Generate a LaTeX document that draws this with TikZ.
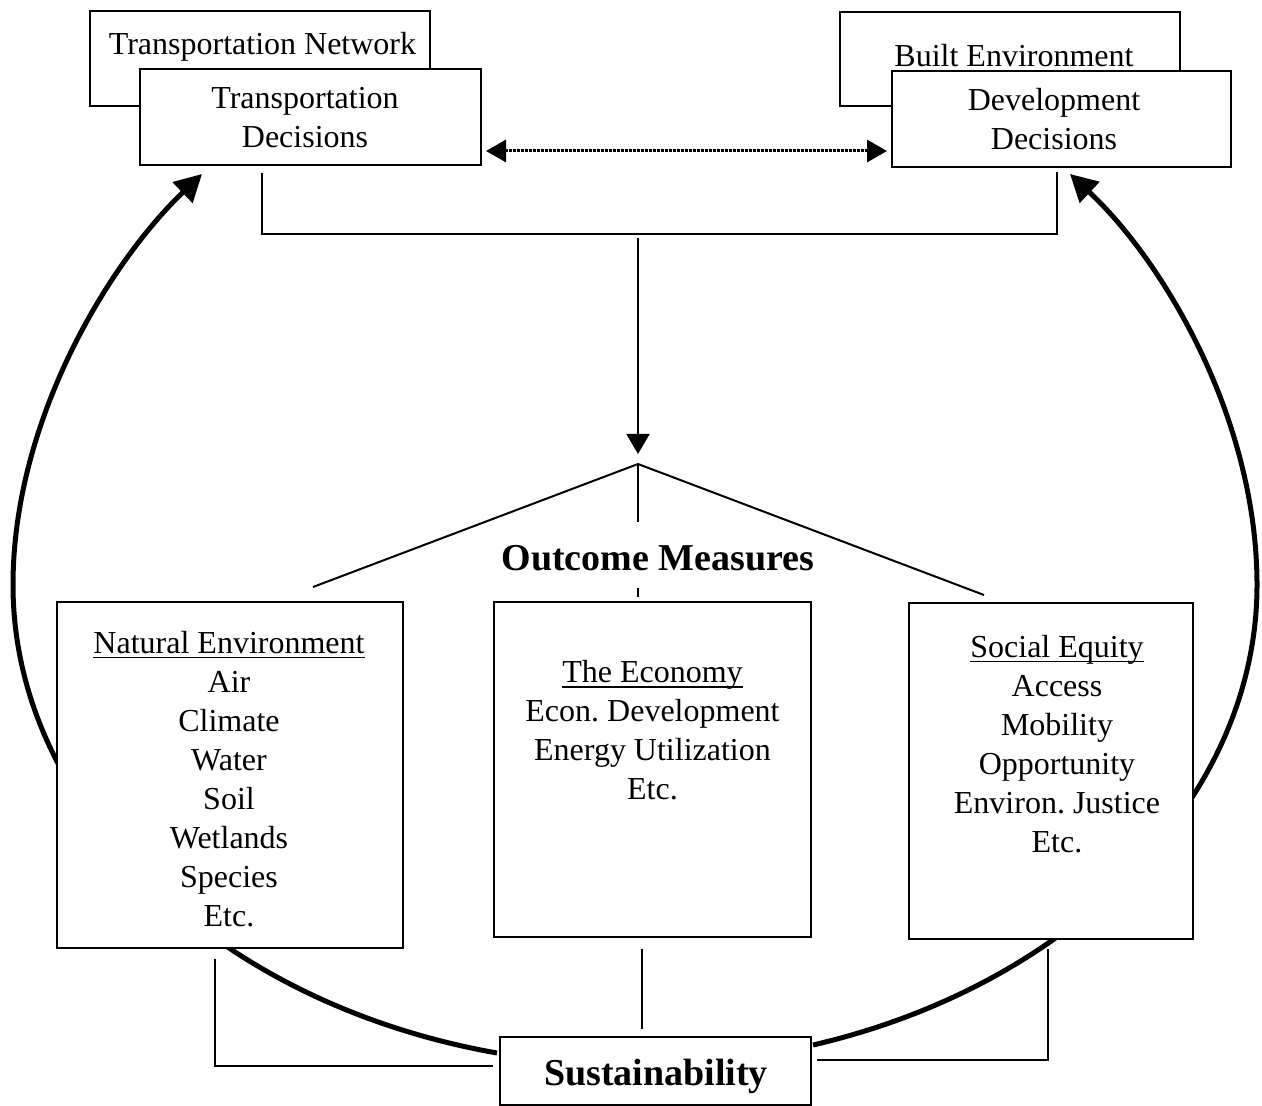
\documentclass[tikz,border=0pt]{standalone}
\usepackage{fontspec}
\setmainfont{Liberation Serif}
\usetikzlibrary{arrows.meta,calc,backgrounds}
\newcommand{\myul}[1]{\setbox0\hbox{#1}\rlap{\rule[-2.4pt]{\wd0}{0.8pt}}\box0}
\frenchspacing
\begin{document}
\begin{tikzpicture}[x=0.5pt,y=-0.5pt,
  box/.style={draw, line width=1pt, fill=white, inner sep=0pt},
  txt/.style={font=\fontsize{16}{19.5}\selectfont, align=center, inner sep=0pt},
  boldtxt/.style={font=\fontsize{19}{23}\selectfont\bfseries, inner sep=0pt},
  thinline/.style={line width=1pt},
  bigarc/.style={line width=2.5pt, -{Triangle[length=13.5pt,width=14pt]}},
  downtip/.style={thinline, -{Triangle[length=10pt,width=11.5pt]}},
  dotarrow/.style={line width=1.5pt, dash pattern=on 1.2pt off 0.8pt,
    {Triangle[length=10pt,width=11pt]}-{Triangle[length=10pt,width=11pt]}},
  ]
\useasboundingbox (0,0) rectangle (1262,1106);

% top boxes
\node[box, minimum width=170pt, minimum height=47.5pt] (tn) at (260,58.5) {};
\node[txt, anchor=base] (tnt) at (262.5,55) {Transportation Network};
\node[box, minimum width=170pt, minimum height=47pt] (be) at (1010,59) {};
\node[txt, anchor=base] (bet) at (1014,67) {Built Environment};
\node[box, minimum width=170.5pt, minimum height=48pt] (td) at (310.5,117) {};
\node[txt] (tdt) at (305,118) {Transportation\\Decisions};
\node[box, minimum width=169.5pt, minimum height=48pt] (dd) at (1061.5,119) {};
\node[txt] (ddt) at (1054,119.5) {Development\\Decisions};

% outcome boxes
\node[box, minimum width=173pt, minimum height=173pt] (ne) at (230,775) {};
\node[txt] (net) at (229,779) {\myul{Natural Environment}\\Air\\Climate\\Water\\Soil\\Wetlands\\Species\\Etc.};
\node[box, minimum width=158.5pt, minimum height=167.5pt] (eco) at (652.5,769.5) {};
\node[txt] (ecot) at (652.5,730.5) {\myul{The Economy}\\Econ. Development\\Energy Utilization\\Etc.};
\node[box, minimum width=142pt, minimum height=168pt] (se) at (1051,771) {};
\node[txt] (set) at (1057,744) {\myul{Social Equity}\\Access\\Mobility\\Opportunity\\Environ. Justice\\Etc.};

\node[boldtxt, anchor=base] (om) at (658,570) {Outcome Measures};
\node[box, minimum width=155.5pt, minimum height=34pt] (sust) at (655.5,1071) {};
\node[boldtxt, anchor=base] (sustt) at (656,1085) {Sustainability};

% coordinates
\coordinate (apex) at (638,464);
\coordinate (dstart) at (638,238);
\coordinate (dend) at (638,454);
\coordinate (lend) at (313,587);
\coordinate (rend) at (984,595);
\coordinate (cgap1) at (638,522);
\coordinate (cgap2) at (638,588);
\coordinate (cgap3) at (638,597);

% dotted double arrow
\draw[dotarrow] ($(td.east)+(4,34)$) -- ($(dd.west)+(-4,32)$);

% top bracket
\draw[thinline] ($(td.south)+(-49,7)$) |- ($(dd.south)+(-4.5,66)$) -- ($(dd.south)+(-4.5,4)$);

% down arrow and branching
\draw[downtip] (dstart) -- (dend);
\draw[thinline] (apex) -- (lend);
\draw[thinline] (apex) -- (rend);
\draw[thinline] (apex) -- (cgap1);
\draw[thinline] (cgap2) -- (cgap3);

% bottom links
\draw[thinline] ($(eco.south)+(-10.5,11)$) -- ($(sust.north)+(-13.5,-7)$);
\draw[thinline] ($(ne.south)+(-15,10)$) |- ($(sust.west)+(-6,-5)$);
\draw[thinline] ($(sust.east)+(5,-11)$) -| ($(se.south)+(-3,9)$);

% big feedback arcs
\begin{scope}[on background layer]
\draw[bigarc] ($(sust.west)+(-2,-18)$) .. controls (214,1003) and (13,807) .. (13,585)
  .. controls (13,420) and (109,263) .. ($(td.south west)+(63,8)$);
\draw[bigarc] ($(sust.east)+(1,-26)$) .. controls (1076,984) and (1257,795) .. (1257,585)
  .. controls (1257,420) and (1165,263) .. ($(dd.south east)+(-162,6)$);
\end{scope}
\end{tikzpicture}
\end{document}
